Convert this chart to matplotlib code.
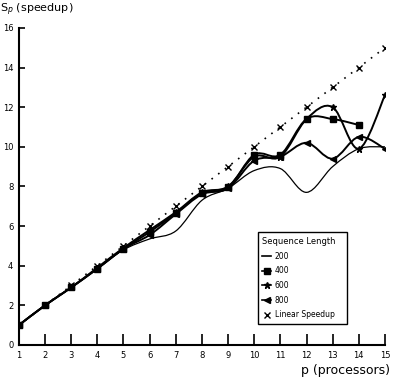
import matplotlib
matplotlib.use("Agg")
import matplotlib.pyplot as plt
from matplotlib.path import Path
from matplotlib.patches import PathPatch
from matplotlib.lines import Line2D
import numpy as np


procs = [1, 2, 3, 4, 5, 6, 7, 8, 9, 10, 11, 12, 13, 14, 15]
speed_200 = [1.0, 2.0, 2.9, 3.85, 4.8, 5.35, 5.75, 7.3, 7.9, 8.8, 8.9, 7.7, 9.0, 9.9, 10.0]
speed_400 = [1.0, 2.0, 2.9, 3.85, 4.85, 5.7, 6.65, 7.65, 7.95, 9.6, 9.6, 11.4, 11.4, 11.1]
speed_600 = [1.0, 2.0, 2.9, 3.9, 4.9, 5.8, 6.7, 7.7, 8.0, 9.5, 9.5, 11.4, 12.0, 9.9, 12.6]
speed_800 = [1.0, 2.0, 2.9, 3.85, 4.85, 5.55, 6.6, 7.6, 7.9, 9.3, 9.5, 10.2, 9.4, 10.5, 9.9]
linear = [1, 2, 3, 4, 5, 6, 7, 8, 9, 10, 11, 12, 13, 14, 15]

labels = ["200", "400", "600", "800", "Linear Speedup"]
x_ticks = [1, 2, 3, 4, 5, 6, 7, 8, 9, 10, 11, 12, 13, 14, 15]
y_ticks = [0, 2, 4, 6, 8, 10, 12, 14, 16]


def smooth_path(xs, ys):
    # catmull-rom style cubic bezier through the data points
    pts = np.column_stack([xs, ys]).astype(float)
    n = len(pts)
    verts = [pts[0]]
    codes = [Path.MOVETO]
    for i in range(n - 1):
        p0 = pts[i - 1] if i > 0 else pts[i]
        p1 = pts[i]
        p2 = pts[i + 1]
        p3 = pts[i + 2] if i + 2 < n else pts[i + 1]
        c1 = p1 + (p2 - p0) / 6.0
        c2 = p2 - (p3 - p1) / 6.0
        verts += [c1, c2, p2]
        codes += [Path.CURVE4] * 3
    return Path(verts, codes)


fig = plt.figure(figsize=(3.94, 3.82), dpi=100)
ax = fig.add_axes([0.048, 0.097, 0.929, 0.83])

series = [
    (speed_200, None, 0.9),
    (speed_400, "s", 1.4),
    (speed_600, "*", 1.4),
    (speed_800, "<", 1.4),
]
for ys, mk, lw in series:
    xs = procs[:len(ys)]
    ax.add_patch(PathPatch(smooth_path(xs, ys), fill=False, edgecolor="black", lw=lw))
    if mk is not None:
        ax.plot(xs, ys, linestyle="none", marker=mk, color="black", markersize=4.5,
                markeredgewidth=1.0)

ax.plot(procs, linear, linestyle=(0, (1, 4)), color="black", lw=1.2,
        marker="x", markersize=5, markeredgewidth=1.0)

ax.set_xlim(1, 15)
ax.set_ylim(0, 16)
ax.set_xticks(x_ticks)
ax.set_yticks(y_ticks)
ax.tick_params(axis="x", direction="in", length=8, width=1.2, labelsize=6, pad=4)
ax.tick_params(axis="y", direction="in", length=4, width=1.2, labelsize=6, pad=4)
ax.spines["top"].set_visible(False)
ax.spines["right"].set_visible(False)
ax.spines["left"].set_linewidth(1.5)
ax.spines["bottom"].set_linewidth(1.5)

fig.text(0.0, 0.975, "S$_p$ (speedup)", fontsize=8, ha="left", va="center")
fig.text(0.99, 0.03, "p (processors)", fontsize=9, ha="right", va="center")

handles = [
    Line2D([], [], color="black", lw=1.2),
    Line2D([], [], color="black", lw=1.2, marker="s", markersize=4),
    Line2D([], [], color="black", lw=1.2, marker="*", markersize=5),
    Line2D([], [], color="black", lw=1.2, marker="<", markersize=4),
    Line2D([], [], color="black", lw=0, marker="x", markersize=5),
]
leg = ax.legend(handles, labels, title="Sequence Length", loc="lower left",
                bbox_to_anchor=(0.642, 0.054, 0.265, 0.287), mode="expand",
                fontsize=5.5, title_fontsize=6, handlelength=1.2, handletextpad=0.4,
                fancybox=False, framealpha=1, edgecolor="black", borderpad=0.6,
                labelspacing=0.75)
leg.get_frame().set_linewidth(1.0)
leg._legend_box.align = "left"

fig.savefig("out.png", dpi=100)
